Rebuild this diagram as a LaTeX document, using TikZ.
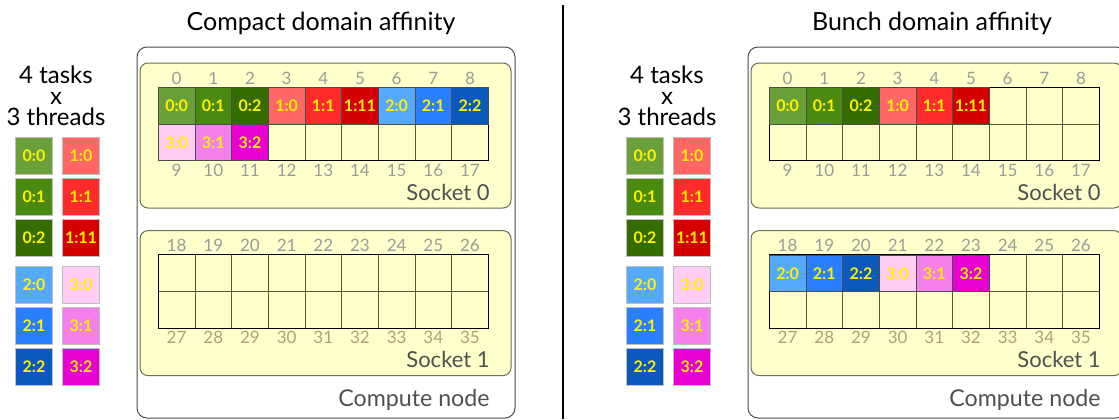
\documentclass[tikz,border=0pt]{standalone}
\usepackage{fontspec}
\setmainfont{Lato}
\usetikzlibrary{positioning}
\definecolor{tgA}{RGB}{106,160,58}
\definecolor{tgB}{RGB}{74,138,16}
\definecolor{tgC}{RGB}{52,108,0}
\definecolor{trA}{RGB}{255,102,102}
\definecolor{trB}{RGB}{255,42,42}
\definecolor{trC}{RGB}{212,0,0}
\definecolor{tbA}{RGB}{85,170,255}
\definecolor{tbB}{RGB}{42,127,255}
\definecolor{tbC}{RGB}{10,90,190}
\definecolor{tpA}{RGB}{255,204,246}
\definecolor{tpB}{RGB}{244,128,236}
\definecolor{tpC}{RGB}{232,0,210}
\definecolor{socketfill}{RGB}{255,255,204}
\definecolor{socketedge}{RGB}{110,110,80}
\definecolor{gridline}{RGB}{90,90,40}
\definecolor{numgray}{RGB}{155,155,155}
\definecolor{numolive}{RGB}{165,165,120}
\definecolor{labelgray}{RGB}{80,80,80}
\tikzset{
  nodeframe/.style={draw=black!70, fill=white, rounded corners=5pt, line width=0.5pt},
  socketframe/.style={draw=socketedge, fill=socketfill, rounded corners=4pt, line width=0.5pt},
  coreline/.style={draw=gridline, line width=0.4pt},
  coreedge/.style={draw=black, line width=0.5pt},
  core/.style={draw=black!70, line width=0.4pt, minimum size=18.33pt, inner sep=0pt, text=yellow, font=\bfseries\fontsize{8}{8}\selectfont},
  keybox/.style={core, draw=black!25},
  corenum/.style={text=numgray, font=\fontsize{8.5}{8.5}\selectfont, inner sep=0pt},
  framelabel/.style={text=labelgray, font=\fontsize{11}{11}\selectfont, inner sep=0pt, anchor=east},
  paneltitle/.style={font=\fontsize{12.5}{12.5}\selectfont, inner sep=0pt},
  keytitle/.style={font=\fontsize{12}{10.5}\selectfont, align=center, inner sep=0pt},
}
% legend of tasks:threads, #1 = name prefix
\def\taskkey#1{%
  \node[keytitle] (#1-title) at (56,96) {4 tasks\\x\\3 threads};
  \foreach \lab/\col [count=\k from 0] in {0:0/tgA, 0:1/tgB, 0:2/tgC, 1:0/trA, 1:1/trB, 1:11/trC,
      2:0/tbA, 2:1/tbB, 2:2/tbC, 3:0/tpA, 3:1/tpB, 3:2/tpC} {
    \pgfmathsetmacro\kx{34+47*mod(floor(\k/3),2)}
    \pgfmathsetmacro\ky{155.7+41*mod(\k,3)+129.3*floor(\k/6)}
    \node[keybox, fill=\col] (#1-\k) at (\kx,\ky) {\lab};
  }}
% compute node with two sockets, #1 = name prefix
\def\computenode#1{%
  \draw[nodeframe] (137,47) rectangle (515,418);
  \node[framelabel, font=\fontsize{11.6}{11.6}\selectfont] (#1-cn) at (490,400) {Compute node};
  \foreach \s/\dy/\bcol in {0/0/numgray, 1/167.6/numolive} {
    \draw[socketframe] (140,63+\dy) rectangle (511,208+\dy);
    \foreach \i in {1,...,8}
      \draw[coreline] (158.3+36.67*\i,87.3+\dy) -- ++(0,73.4);
    \draw[coreline] (158.3,124+\dy) -- ++(330,0);
    \draw[coreedge] (158.3,87.3+\dy) rectangle ++(330,73.4);
    \foreach \i in {0,...,8} {
      \pgfmathtruncatemacro\ntop{18*\s+\i}
      \pgfmathtruncatemacro\nbot{18*\s+9+\i}
      \node[corenum] (#1-n\ntop) at (176.6+36.67*\i,78+\dy) {\ntop};
      \node[corenum, text=\bcol] (#1-n\nbot) at (176.6+36.67*\i,170+\dy) {\nbot};
    }
    \node[framelabel] (#1-s\s) at (490,192+\dy) {Socket \s};
  }}
% tasks on cores, #1 = name prefix, #2 = core/label/colour list
\def\placetasks#1#2{%
  \foreach \n/\lab/\col in {#2} {
    \pgfmathsetmacro\cx{176.6+36.67*mod(\n,9)}
    \pgfmathsetmacro\cy{105.7+36.67*mod(floor(\n/9),2)+167.6*floor(\n/18)}
    \node[core, fill=\col] (#1-\n) at (\cx,\cy) {\lab};
  }}
\begin{document}
\begin{tikzpicture}[x=0.5pt, y=-0.5pt]
  \useasboundingbox (0,0) rectangle (1119,419);
  \clip (0,0) rectangle (1119,419);
  % compact
  \node[paneltitle] (ctitle) at (321,23) {Compact domain affinity};
  \taskkey{ck}
  \computenode{cn}
  \placetasks{ct}{0/0:0/tgA, 1/0:1/tgB, 2/0:2/tgC, 3/1:0/trA, 4/1:1/trB, 5/1:11/trC,
    6/2:0/tbA, 7/2:1/tbB, 8/2:2/tbC, 9/3:0/tpA, 10/3:1/tpB, 11/3:2/tpC}
  \coordinate (divtop) at (563,5);
  \coordinate (divbot) at (563,419);
  \draw[line width=0.6pt] (divtop) -- (divbot);
  % bunch
  \begin{scope}[xshift=305.5pt]
    \node[paneltitle] (btitle) at (321,23) {Bunch domain affinity};
    \taskkey{bk}
    \computenode{bn}
    \placetasks{bt}{0/0:0/tgA, 1/0:1/tgB, 2/0:2/tgC, 3/1:0/trA, 4/1:1/trB, 5/1:11/trC,
      18/2:0/tbA, 19/2:1/tbB, 20/2:2/tbC, 21/3:0/tpA, 22/3:1/tpB, 23/3:2/tpC}
  \end{scope}
\end{tikzpicture}
\end{document}
